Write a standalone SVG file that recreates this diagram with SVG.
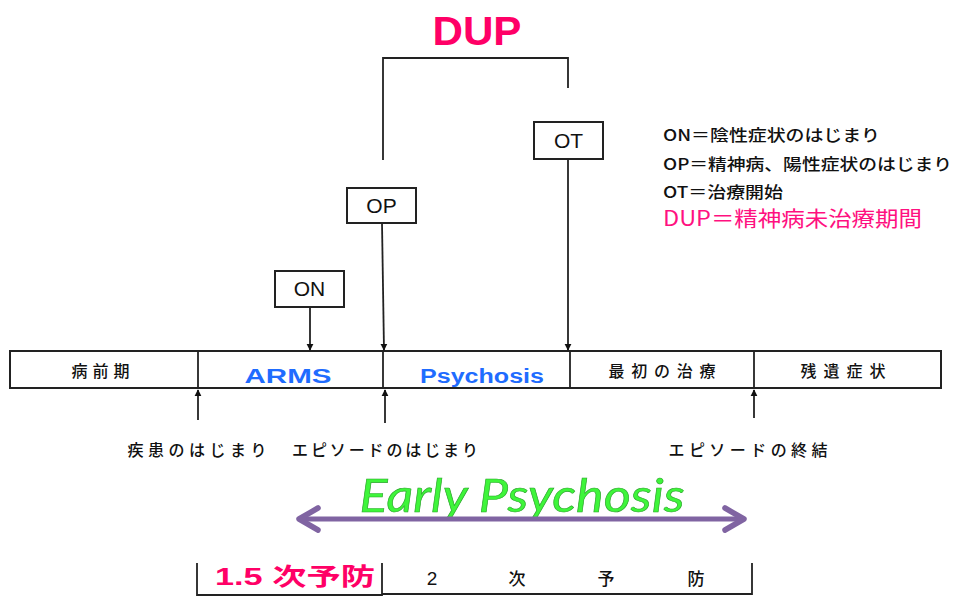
<svg xmlns="http://www.w3.org/2000/svg" width="956" height="599" viewBox="0 0 956 599">
<style>
.jp{font-family:"Noto Sans CJK JP","Liberation Sans",sans-serif;fill:#111;font-weight:500;}
.lat{font-family:"Liberation Sans",Arial,sans-serif;fill:#111;}
.box{fill:#fff;stroke:#222;stroke-width:2;}
.ln{fill:none;stroke:#222;stroke-width:1.8;}
.blue{font-family:"Liberation Sans",Arial,sans-serif;font-weight:bold;fill:#1f6cff;}
</style>
<defs>
<marker id="ah" viewBox="0 0 10 10" refX="9" refY="5" markerWidth="7" markerHeight="8" markerUnits="userSpaceOnUse" orient="auto">
<path d="M0,0 L10,5 L0,10 z" fill="#111"/>
</marker>
</defs>
<rect width="956" height="599" fill="#fff"/>

<g id="dup-title">
<text x="477" y="45" text-anchor="middle" font-family="Liberation Sans, Arial, sans-serif" font-weight="bold" font-size="41" fill="#ff0066" textLength="89" lengthAdjust="spacingAndGlyphs">DUP</text>
</g>

<g id="timeline">
<rect x="10" y="351" width="931" height="37" class="box"/>
<line x1="198" y1="351" x2="198" y2="388" class="ln"/>
<line x1="383" y1="351" x2="383" y2="388" class="ln"/>
<line x1="570" y1="351" x2="570" y2="388" class="ln"/>
<line x1="754" y1="351" x2="754" y2="388" class="ln"/>
<text x="103" y="377" class="jp" font-size="16" text-anchor="middle" letter-spacing="5">病前期</text>
<text x="288" y="383" class="blue" font-size="21" text-anchor="middle" textLength="87" lengthAdjust="spacingAndGlyphs">ARMS</text>
<text x="482" y="383" class="blue" font-size="20" text-anchor="middle" textLength="124" lengthAdjust="spacingAndGlyphs">Psychosis</text>
<text x="662" y="377" class="jp" font-size="16" text-anchor="middle" textLength="107" lengthAdjust="spacing">最初の治療</text>
<text x="843" y="377" class="jp" font-size="16" text-anchor="middle" textLength="85" lengthAdjust="spacing">残遺症状</text>
</g>

<g id="node-ON">
<rect x="275" y="271" width="69" height="36" class="box"/>
<text x="309.5" y="296" class="lat" font-size="21" text-anchor="middle">ON</text>
</g>
<g id="node-OP">
<rect x="347" y="188" width="69" height="35" class="box"/>
<text x="381.5" y="213" class="lat" font-size="21" text-anchor="middle">OP</text>
</g>
<g id="node-OT">
<rect x="534" y="122" width="69" height="37" class="box"/>
<text x="568.5" y="148" class="lat" font-size="21" text-anchor="middle">OT</text>
</g>

<g id="legend">
<text x="663" y="141" class="jp" font-size="16" textLength="217" lengthAdjust="spacingAndGlyphs">ON＝陰性症状のはじまり</text>
<text x="663" y="170" class="jp" font-size="16" textLength="289" lengthAdjust="spacingAndGlyphs">OP＝精神病、陽性症状のはじまり</text>
<text x="663" y="198" class="jp" font-size="16" textLength="120" lengthAdjust="spacingAndGlyphs">OT＝治療開始</text>
<text x="663" y="226" class="jp" font-size="21" style="fill:#ff1080;font-weight:400" textLength="259" lengthAdjust="spacingAndGlyphs">DUP＝精神病未治療期間</text>
</g>

<g id="labels-below">
<text x="197" y="456" class="jp" font-size="16" text-anchor="middle" textLength="139" lengthAdjust="spacing">疾患のはじまり</text>
<text x="385" y="456" class="jp" font-size="16" text-anchor="middle" textLength="186" lengthAdjust="spacing">エピソードのはじまり</text>
<text x="748" y="456" class="jp" font-size="16" text-anchor="middle" textLength="159" lengthAdjust="spacing">エピソードの終結</text>
</g>

<g id="early-psychosis">
<text x="522" y="512" text-anchor="middle" font-family="Lato, 'Open Sans', sans-serif" font-style="italic" font-size="46" fill="#3ef53a" stroke="#2aa52a" stroke-width="0.6" textLength="325" lengthAdjust="spacingAndGlyphs">Early Psychosis</text>
<line x1="302" y1="519" x2="741" y2="519" stroke="#8064a2" stroke-width="5"/>
<path d="M318,508 L299,519 L318,530 M725,508 L744,519 L725,530" fill="none" stroke="#8064a2" stroke-width="5.5" stroke-linecap="round" stroke-linejoin="round"/>
</g>

<g id="prevention">
<path d="M197,563 V595 H382 V563" class="ln"/>
<path d="M382,594 H752 V563" class="ln"/>
<text x="295" y="585" text-anchor="middle" font-family="Liberation Sans, 'Noto Sans CJK JP', sans-serif" font-weight="bold" font-size="24" fill="#ff0066" textLength="160" lengthAdjust="spacingAndGlyphs">1.5 次予防</text>
<text x="432" y="585" class="lat" font-size="19" text-anchor="middle">2</text>
<text x="517" y="585" class="jp" font-size="17" text-anchor="middle">次</text>
<text x="606" y="585" class="jp" font-size="17" text-anchor="middle">予</text>
<text x="696" y="585" class="jp" font-size="17" text-anchor="middle">防</text>
</g>

<g id="connectors">
<path d="M383,160 V58 H568 V88" class="ln"/>
<line x1="310" y1="307" x2="310" y2="350" class="ln" marker-end="url(#ah)"/>
<line x1="382" y1="223" x2="384" y2="350" class="ln" marker-end="url(#ah)"/>
<line x1="568" y1="159" x2="568" y2="350" class="ln" marker-end="url(#ah)"/>
<line x1="198" y1="420" x2="198" y2="390" class="ln" marker-end="url(#ah)"/>
<line x1="385" y1="423" x2="385" y2="390" class="ln" marker-end="url(#ah)"/>
<line x1="754" y1="418" x2="754" y2="390" class="ln" marker-end="url(#ah)"/>
</g>
</svg>
